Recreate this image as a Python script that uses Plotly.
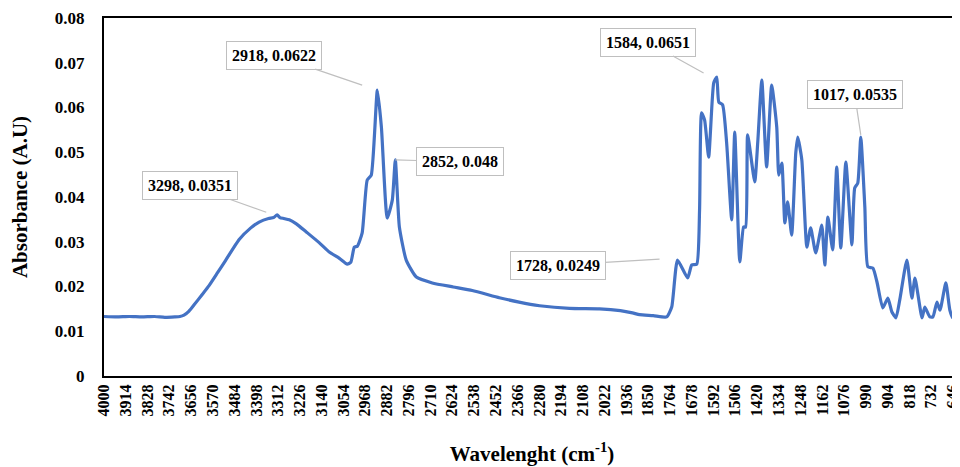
import plotly.graph_objects as go

# Wavenumber (cm-1) and absorbance
wavenumber = [4000, 3950, 3900, 3850, 3800, 3760, 3720, 3700, 3684, 3664, 3644, 3615, 3585, 3550, 3520,
              3466, 3420, 3387, 3350, 3330, 3316, 3305, 3290, 3268, 3240, 3201, 3150, 3110, 3070,
              3039, 3025, 3011, 2999, 2980, 2960, 2944, 2920, 2904, 2881, 2861, 2849, 2833, 2806,
              2766, 2703, 2620, 2545, 2438, 2360, 2279, 2161, 2042, 1960, 1912, 1884, 1830, 1777,
              1757, 1734, 1694, 1678, 1658, 1647, 1639, 1627, 1611, 1591, 1579, 1571, 1556, 1540,
              1520, 1508, 1488, 1473, 1465, 1457, 1429, 1417, 1401, 1382, 1362, 1342, 1334, 1322,
              1310, 1299, 1283, 1267, 1259, 1243, 1223, 1208, 1188, 1164, 1152, 1140, 1121, 1105,
              1089, 1069, 1045, 1034, 1022, 1010, 994, 982, 962, 946, 923, 903, 887, 871, 856,
              828, 808, 796, 768, 757, 737, 725, 709, 697, 674, 658, 646, 630, 618]
absorbance = [0.0133, 0.0132, 0.0133, 0.0132, 0.0133, 0.0131, 0.0132, 0.0133, 0.0136, 0.0145, 0.0159, 0.0180, 0.0202, 0.0232, 0.0258,
              0.0305, 0.0331, 0.0344, 0.0352, 0.0354, 0.0360, 0.0354, 0.0352, 0.0349, 0.0340, 0.0322, 0.0298, 0.0277, 0.0263,
              0.0250, 0.0254, 0.0288, 0.0290, 0.0320, 0.0438, 0.0449, 0.0639, 0.0556, 0.0353, 0.0393, 0.0483, 0.0333, 0.0259,
              0.0221, 0.0208, 0.0199, 0.0191, 0.0175, 0.0165, 0.0157, 0.0151, 0.0150, 0.0146, 0.0141, 0.0137, 0.0135, 0.0132,
              0.0154, 0.0259, 0.0219, 0.0248, 0.0250, 0.0371, 0.0588, 0.0572, 0.0489, 0.0655, 0.0668, 0.0612, 0.0606, 0.0521,
              0.0349, 0.0545, 0.0255, 0.0333, 0.0333, 0.0539, 0.0434, 0.0523, 0.0661, 0.0467, 0.0650, 0.0556, 0.0449, 0.0476,
              0.0342, 0.0389, 0.0315, 0.0498, 0.0534, 0.0483, 0.0288, 0.0331, 0.0275, 0.0337, 0.0248, 0.0355, 0.0282, 0.0467,
              0.0286, 0.0478, 0.0293, 0.0420, 0.0431, 0.0534, 0.0378, 0.0244, 0.0241, 0.0210, 0.0152, 0.0174, 0.0143, 0.0130, 0.0170,
              0.0259, 0.0174, 0.0219, 0.0130, 0.0154, 0.0132, 0.0132, 0.0165, 0.0147, 0.0208, 0.0147, 0.0130, 0.0136, 0.0130]

x_ticks = list(range(4000, 645, -86))
y_ticks = [0, 0.01, 0.02, 0.03, 0.04, 0.05, 0.06, 0.07, 0.08]
y_ticktext = ["0", "0.01", "0.02", "0.03", "0.04", "0.05", "0.06", "0.07", "0.08"]

# callout labels: (text, tip wavenumber, tip absorbance, dx, dy)
callouts = [
    ("2918, 0.0622", 2980, 0.0650, -88, -30),
    ("3298, 0.0351", 3359, 0.0366, -76, -27),
    ("2852, 0.048", 2849, 0.0483, 65, 2),
    ("1728, 0.0249", 1805, 0.0261, -102, 6),
    ("1584, 0.0651", 1631, 0.0677, -56, -31),
    ("1017, 0.0535", 1010, 0.0539, -6, -40),
]

FONT = "Liberation Serif"

fig = go.Figure()
fig.add_trace(go.Scatter(x=wavenumber, y=absorbance, mode="lines",
                         line=dict(color="#4472C4", width=3.2, shape="spline", smoothing=0.5),
                         showlegend=False))

for text, xv, yv, dx, dy in callouts:
    fig.add_annotation(x=xv, y=yv, text="<b>%s</b>" % text, showarrow=True,
                       ax=dx, ay=dy, arrowhead=0, arrowwidth=1.2, arrowcolor="#BFBFBF",
                       standoff=0, bgcolor="white", bordercolor="#BFBFBF", borderwidth=1,
                       borderpad=5, font=dict(family=FONT, size=16, color="black"))

# page body has an 8px margin: figure is sized to fit the 960x467 window
fig.update_layout(
    width=952, height=459,
    margin=dict(l=96, r=0, t=10, b=91),
    plot_bgcolor="white", paper_bgcolor="white",
    font=dict(family=FONT, color="black"),
)
fig.update_xaxes(range=[4000, 618], tickvals=x_ticks, tickangle=-90, automargin=False,
                 ticklabeloverflow="allow",
                 tickfont=dict(family=FONT, size=16, color="black", weight="bold"),
                 showgrid=False, zeroline=False, showline=True, linecolor="black",
                 linewidth=2, mirror=True, ticks="",
                 title=dict(text="<b>Wavelenght (cm<sup>-1</sup>)</b>", standoff=31,
                            font=dict(family=FONT, size=21, color="black")))
fig.update_yaxes(range=[0, 0.08], tickvals=y_ticks, ticktext=y_ticktext, automargin=False,
                 tickfont=dict(family=FONT, size=17, color="black", weight="bold"),
                 showgrid=False, zeroline=False, showline=True, linecolor="black",
                 linewidth=2, ticks="", ticklabelstandoff=14,
                 title=dict(text="<b>Absorbance (A.U)</b>", standoff=25,
                            font=dict(family=FONT, size=21, color="black")))

fig.write_html("out.html")
